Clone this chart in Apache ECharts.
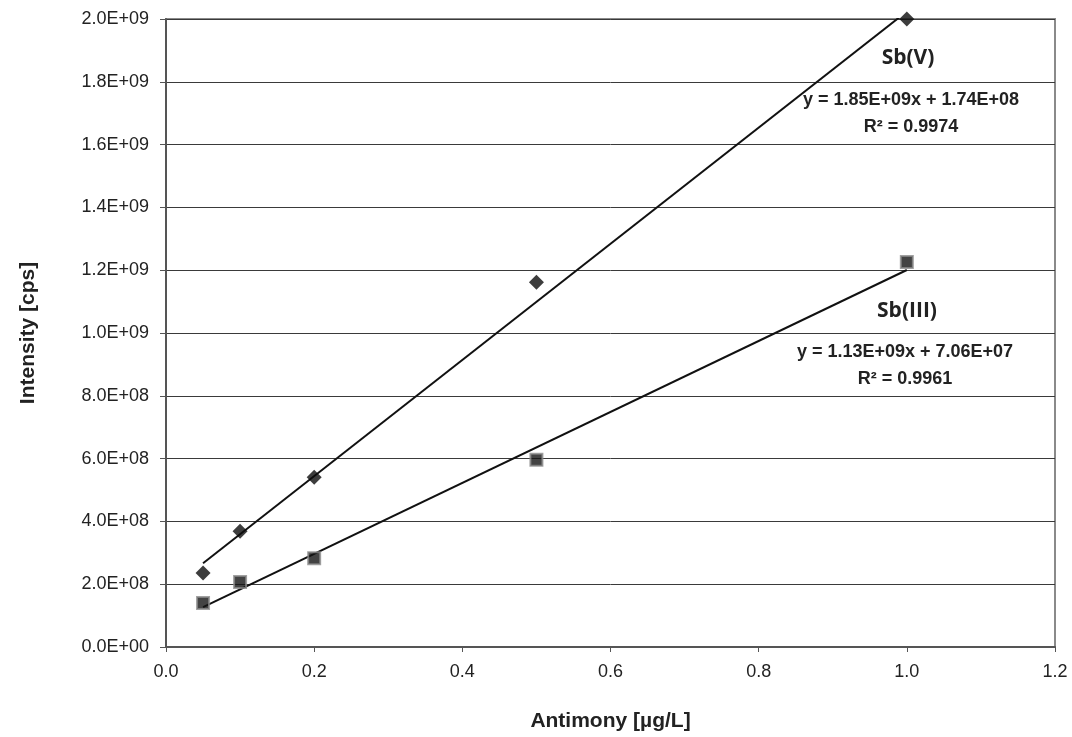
<!DOCTYPE html>
<html>
<head>
<meta charset="utf-8">
<script src="https://cdn.jsdelivr.net/npm/echarts@6/dist/echarts.min.js"></script>
<style>
  html, body { margin: 0; padding: 0; background: #fff; }
  #chart { width: 1072px; height: 737px; }
</style>
</head>
<body>
<div id="chart"></div>
<script>
// data
var xVals = [0.05, 0.1, 0.2, 0.5, 1.0]
var sbV = [2.36e8, 3.69e8, 5.41e8, 1.162e9, 2.0e9]
var sbIII = [1.40e8, 2.07e8, 2.83e8, 5.96e8, 1.226e9]
// linear fits printed on the chart
var fitV = { slope: 1.85e9, intercept: 1.74e8, r2: '0.9974' }
var fitIII = { slope: 1.13e9, intercept: 7.06e7, r2: '0.9961' }
var fitRange = [0.05, 1.0]

function sci(v) {
    if (v === 0) return '0.0E+00'
    var e = Math.floor(Math.log10(Math.abs(v)) + 1e-9)
    var m = v / Math.pow(10, e)
    return m.toFixed(1) + 'E+' + (e < 10 ? '0' + e : e)
}
function pairs(xs, ys) {
    return xs.map(function (x, i) { return [x, ys[i]] })
}
function fitLine(f) {
    return fitRange.map(function (x) { return [x, f.slope * x + f.intercept] })
}

var myChart = echarts.init(document.getElementById('chart'))
var labelFont = { fontFamily: 'Liberation Sans, Arial', fontSize: 18, color: '#222' }
var titleFont = { fontFamily: 'Liberation Sans, Arial', fontSize: 21, fontWeight: 'bold', color: '#222' }
var noteFont = 'bold 21px "Open Sans", "Liberation Sans", sans-serif'
var eqFont = 'bold 18px "Liberation Sans", Arial, sans-serif'

function note(text, x, y, font) {
    return {
        type: 'text', z: 10,
        style: { text: text, font: font, fill: '#222', x: x, y: y, align: 'center', verticalAlign: 'middle' }
    }
}

var option = {
    animation: false,
    grid: {
        left: 166, right: 17, top: 19, bottom: 90,
        show: true, borderColor: '#8a8a8a', borderWidth: 2
    },
    xAxis: {
        type: 'value',
        min: 0, max: 1.2, interval: 0.2,
        name: 'Antimony [µg/L]',
        nameLocation: 'middle',
        nameGap: 64,
        nameTextStyle: titleFont,
        axisLine: { onZero: false, lineStyle: { color: '#555', width: 2 } },
        axisTick: { show: true, length: 5, lineStyle: { color: '#555' } },
        axisLabel: Object.assign({ margin: 16, formatter: function (v) { return v.toFixed(1) } }, labelFont),
        splitLine: { show: false }
    },
    yAxis: {
        type: 'value',
        min: 0, max: 2e9, interval: 2e8,
        name: 'Intensity [cps]',
        nameLocation: 'middle',
        nameGap: 127,
        nameRotate: 90,
        nameTextStyle: titleFont,
        axisLine: { show: true, lineStyle: { color: '#555', width: 2 } },
        axisTick: { show: true, length: 6, lineStyle: { color: '#555' } },
        axisLabel: Object.assign({ margin: 17, formatter: sci }, labelFont),
        splitLine: { show: true, lineStyle: { color: '#3a3a3a', width: 1 } }
    },
    series: [
        {
            name: 'Sb(V) fit', type: 'line', data: fitLine(fitV),
            showSymbol: false, lineStyle: { color: '#111', width: 2 }, z: 2
        },
        {
            name: 'Sb(III) fit', type: 'line', data: fitLine(fitIII),
            showSymbol: false, lineStyle: { color: '#111', width: 2 }, z: 2
        },
        {
            name: 'Sb(V)', type: 'scatter', data: pairs(xVals, sbV),
            symbol: 'diamond', symbolSize: [15, 15],
            itemStyle: { color: '#0d0d0d' }, z: 3
        },
        {
            name: 'Sb(III)', type: 'scatter', data: pairs(xVals, sbIII),
            symbol: 'rect', symbolSize: 12,
            itemStyle: { color: '#141414', borderColor: '#8a8a8a', borderWidth: 2 }, z: 3
        }
    ],
    graphic: [
        note('Sb(V)', 908, 58, noteFont),
        note('y = 1.85E+09x + 1.74E+08', 911, 100, eqFont),
        note('R² = ' + fitV.r2, 911, 127, eqFont),
        note('Sb(III)', 907, 311, noteFont),
        note('y = 1.13E+09x + 7.06E+07', 905, 352, eqFont),
        note('R² = ' + fitIII.r2, 905, 379, eqFont)
    ]
}
myChart.setOption(option)
window.addEventListener('resize', function () {
    myChart.resize()
})
</script>
</body>
</html>
